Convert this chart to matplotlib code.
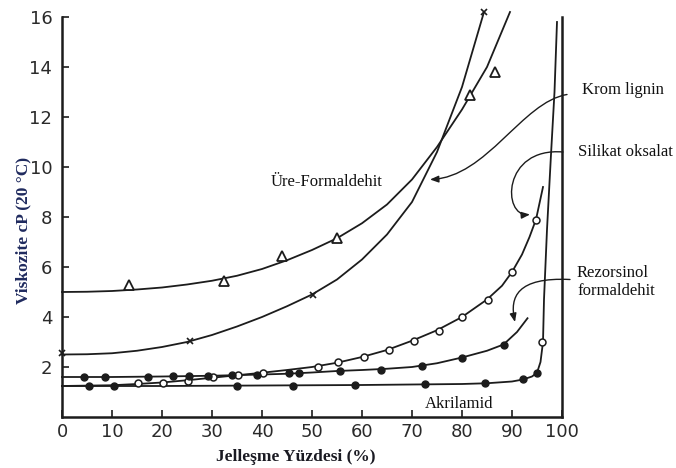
import matplotlib
matplotlib.use("Agg")
import matplotlib.pyplot as plt
from matplotlib.path import Path
from matplotlib.patches import FancyArrowPatch

# Üre-Formaldehit (triangles)
ure_curve_x = [0, 5, 10, 15, 20, 25, 30, 35, 40, 45, 50, 55, 60, 65, 70, 75, 80, 85, 89.6]
ure_curve_y = [5.0, 5.01, 5.04, 5.1, 5.18, 5.3, 5.45, 5.65, 5.92, 6.27, 6.68, 7.15, 7.75, 8.5,
               9.5, 10.8, 12.3, 14.0, 16.2]
ure_pts_x = [13.3, 32.3, 44.0, 55.0, 81.6, 86.6]
ure_pts_y = [5.3, 5.45, 6.45, 7.15, 12.9, 13.8]

# Krom lignin (crosses)
krom_curve_x = [0, 5, 10, 15, 20, 25, 30, 35, 40, 45, 50, 55, 60, 65, 70, 75, 80, 84.4]
krom_curve_y = [2.5, 2.51, 2.55, 2.65, 2.8, 3.0, 3.28, 3.62, 4.0, 4.43, 4.9, 5.5, 6.3, 7.3,
                8.6, 10.6, 13.2, 16.2]
krom_pts_x = [0, 25.6, 50.2, 84.4]
krom_pts_y = [2.55, 3.05, 4.9, 16.2]

# Silikat oksalat (open circles)
sil_curve_x = [0, 10, 15, 20, 25, 30, 35, 40, 45, 50, 55, 60, 65, 70, 75, 80, 85, 88, 90, 92,
               93.5, 94.8, 96.2]
sil_curve_y = [1.24, 1.27, 1.32, 1.38, 1.47, 1.57, 1.67, 1.77, 1.88, 2.0, 2.17, 2.4, 2.68, 3.05,
               3.47, 4.0, 4.7, 5.25, 5.8, 6.5, 7.2, 7.9, 9.2]
sil_pts_x = [15.2, 20.2, 25.2, 30.2, 35.2, 40.2, 51.2, 55.2, 60.3, 65.3, 70.3, 75.3, 80.0, 85.2,
             90.0, 94.8]
sil_pts_y = [1.36, 1.36, 1.44, 1.6, 1.7, 1.75, 2.0, 2.2, 2.4, 2.68, 3.05, 3.45, 4.0, 4.7, 5.8, 7.9]

# Rezorsinol formaldehit (filled circles, upper)
rez_curve_x = [0, 10, 20, 30, 40, 45, 50, 55, 60, 65, 70, 75, 80, 85, 88.3, 91, 93.1]
rez_curve_y = [1.6, 1.6, 1.62, 1.65, 1.7, 1.73, 1.78, 1.84, 1.88, 1.93, 2.0, 2.15, 2.38, 2.65,
               2.9, 3.4, 3.95]
rez_pts_x = [4.4, 8.6, 17.2, 22.2, 25.4, 29.2, 34.0, 38.9, 45.3, 47.3, 55.6, 63.8, 71.9, 80.0, 88.3]
rez_pts_y = [1.6, 1.6, 1.62, 1.63, 1.64, 1.65, 1.67, 1.7, 1.75, 1.75, 1.85, 1.9, 2.03, 2.38, 2.9]

# Akrilamid (filled circles, lower)
akr_curve_x = [0, 10, 20, 30, 40, 50, 60, 70, 80, 85, 90, 92.2, 94, 95, 95.7, 96.2, 96.4, 97,
               97.8, 98.5, 99]
akr_curve_y = [1.24, 1.24, 1.24, 1.25, 1.26, 1.27, 1.28, 1.3, 1.32, 1.35, 1.42, 1.5, 1.62, 1.77,
               2.2, 3.0, 4.7, 7.5, 10.5, 13.0, 15.8]
akr_pts_x = [5.3, 10.3, 34.9, 46.1, 58.6, 72.6, 84.6, 92.2, 95.0]
akr_pts_y = [1.24, 1.24, 1.24, 1.26, 1.28, 1.32, 1.35, 1.52, 1.77]
akr_open_x = [96.0]
akr_open_y = [3.0]

x_ticks = [0, 10, 20, 30, 40, 50, 60, 70, 80, 90, 100]
y_ticks = [2, 4, 6, 8, 10, 12, 14, 16]

INK = "#1c1c1c"
TICK_FONT = ["Liberation Sans Narrow", "DejaVu Sans"]
LABEL_FONT = ["Liberation Serif", "DejaVu Serif"]

fig = plt.figure(figsize=(6.76, 4.68), dpi=100)
ax = fig.add_axes([62 / 676, 51 / 468, 500 / 676, 400 / 468])

ax.set_xlim(0, 100)
ax.set_ylim(0, 16)

line_kw = dict(color=INK, lw=1.3, clip_on=False, zorder=3, solid_joinstyle="round")
ax.plot(ure_curve_x, ure_curve_y, **line_kw)
ax.plot(krom_curve_x, krom_curve_y, **line_kw)
ax.plot(sil_curve_x, sil_curve_y, **line_kw)
ax.plot(rez_curve_x, rez_curve_y, **line_kw)
ax.plot(akr_curve_x, akr_curve_y, **line_kw)

ax.plot(ure_pts_x, ure_pts_y, ls="none", marker="^", ms=7, mfc="white",
        mec=INK, mew=1.3, zorder=4, clip_on=False)
ax.plot(krom_pts_x, krom_pts_y, ls="none", marker="x", ms=5, color=INK,
        mew=1.2, zorder=4, clip_on=False)
ax.plot(sil_pts_x, sil_pts_y, ls="none", marker="o", ms=5, mfc="white",
        mec=INK, mew=1.1, zorder=4)
ax.plot(rez_pts_x, rez_pts_y, ls="none", marker="o", ms=5, color=INK, zorder=4)
ax.plot(akr_pts_x, akr_pts_y, ls="none", marker="o", ms=5, color=INK, zorder=4)
ax.plot(akr_open_x, akr_open_y, ls="none", marker="o", ms=5, mfc="white",
        mec=INK, mew=1.1, zorder=4)

# frame: left, bottom and right only
for side in ("left", "bottom", "right"):
    ax.spines[side].set_linewidth(1.8)
    ax.spines[side].set_color(INK)
ax.spines["top"].set_visible(False)

ax.set_xticks(x_ticks)
ax.set_yticks(y_ticks)
ax.tick_params(direction="in", length=5, width=1.2, color=INK,
               labelsize=13, labelcolor="#2a2a2a")
ax.tick_params(axis="x", pad=4)
ax.tick_params(axis="y", pad=7, right=False)
for lab in ax.get_xticklabels() + ax.get_yticklabels():
    lab.set_family(TICK_FONT)

fig.text(296 / 676, 1 - 457 / 468, "Jelleşme Yüzdesi (%)", ha="center", va="center",
         fontsize=12.5, fontweight="bold", family=LABEL_FONT, color="#1a1a22")
fig.text(23 / 676, 1 - 230 / 468, "Viskozite cP (20 °C)", ha="center", va="center",
         rotation=90, fontsize=12.5, fontweight="bold", family=LABEL_FONT, color="#1f2a5e")

txt_kw = dict(fontsize=12, family=LABEL_FONT, color="#111111", clip_on=False)
ax.text(53.0, 9.4, "Üre-Formaldehit", ha="center", va="center", **txt_kw)
ax.text(79.5, 0.5, "Akrilamid", ha="center", va="center", **txt_kw)
ax.text(104.0, 13.1, "Krom lignin", ha="left", va="center", **txt_kw)
ax.text(103.2, 10.6, "Silikat oksalat", ha="left", va="center", **txt_kw)
ax.text(103.0, 5.4, "Rezorsinol\nformaldehit", ha="left", va="center",
        linespacing=1.15, **txt_kw)


def leader(p0, p1, p2, p3):
    path = Path([p0, p1, p2, p3], [Path.MOVETO, Path.CURVE4, Path.CURVE4, Path.CURVE4])
    arrow = FancyArrowPatch(path=path, arrowstyle="-|>,head_length=5,head_width=2",
                            color=INK, lw=1.0, transform=ax.transData,
                            clip_on=False, zorder=5)
    ax.add_patch(arrow)


leader((101.0, 12.9), (92.0, 12.6), (85.0, 9.6), (73.6, 9.5))
leader((100.2, 10.6), (88.0, 10.8), (88.0, 8.0), (93.6, 8.1))
leader((101.6, 5.5), (91.0, 5.6), (89.5, 4.8), (90.6, 3.8))

fig.savefig("out.png", dpi=100)
